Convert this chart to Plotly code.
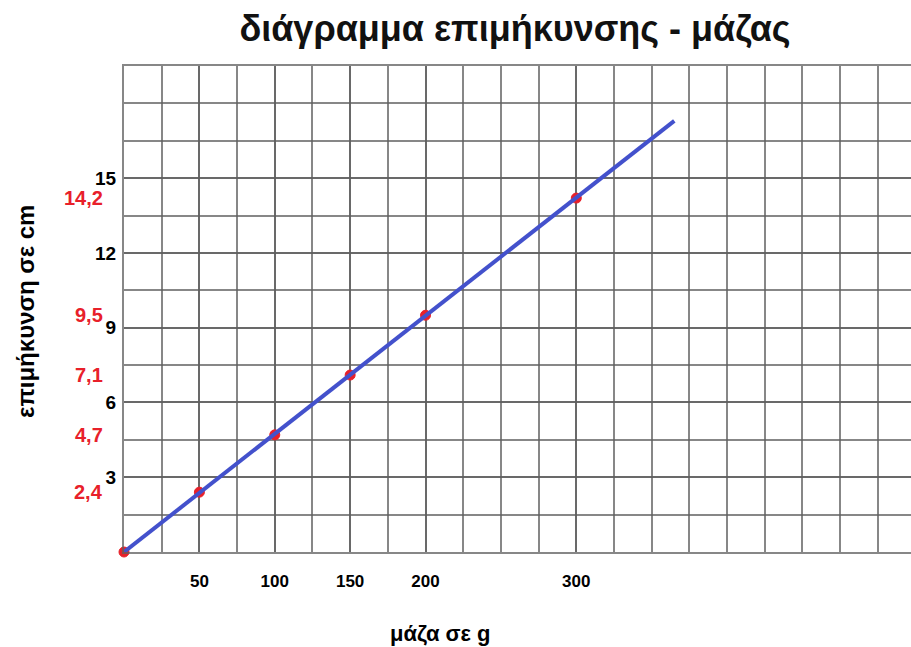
import plotly.graph_objects as go

# data
mass_g = [0, 50, 100, 150, 200, 300]
elong_cm = [0, 2.4, 4.7, 7.1, 9.5, 14.2]
value_labels = ["2,4", "4,7", "7,1", "9,5", "14,2"]
value_label_y = [2.4, 4.7, 7.1, 9.5, 14.2]
fit_x = [0, 365]
fit_y = [0, 17.3]
x_tickvals = [50, 100, 150, 200, 300]
y_tickvals = [3, 6, 9, 12, 15]

title_text = "διάγραμμα επιμήκυνσης - μάζας"
x_title = "μάζα σε g"
y_title = "επιμήκυνση σε cm"

RED = "#e8202a"
BLUE = "#4351cc"
GRID = "rgba(95,95,95,0.75)"
FONT = "Liberation Sans, Arial, sans-serif"

W, H = 911, 647
L, R, T, B = 124, 0, 66, 95
PW, PH = W - L - R, H - T - B

fig = go.Figure()
fig.add_trace(go.Scatter(
    x=mass_g, y=elong_cm, mode="markers",
    marker=dict(color=RED, size=10, line=dict(color=RED, width=1)),
    cliponaxis=False, showlegend=False,
))
fig.add_trace(go.Scatter(
    x=fit_x, y=fit_y, mode="lines",
    line=dict(color=BLUE, width=4),
    cliponaxis=False, showlegend=False,
))

for txt, yv in zip(value_labels, value_label_y):
    fig.add_annotation(
        x=0, y=yv, xref="x", yref="y", text=txt, showarrow=False,
        xanchor="right", yanchor="middle", xshift=-19,
        font=dict(family=FONT, size=20, color=RED, weight="bold"),
    )

# axis titles
fig.add_annotation(
    x=(440 - L) / PW, y=-(633 - (H - B)) / PH, xref="paper", yref="paper",
    text=x_title, showarrow=False, xanchor="center", yanchor="middle",
    font=dict(family=FONT, size=22, color="black", weight="bold"),
)
fig.add_annotation(
    x=-(L - 25) / PW, y=((H - B) - 312) / PH, xref="paper", yref="paper",
    text=y_title, showarrow=False, xanchor="center", yanchor="middle", textangle=-90,
    font=dict(family=FONT, size=24, color="black", weight="bold"),
)

fig.update_layout(
    width=W, height=H,
    margin=dict(l=L, r=R, t=T, b=B, autoexpand=False),
    paper_bgcolor="white", plot_bgcolor="white",
    title=dict(
        text=title_text, x=515 / W, xanchor="center", y=1 - 28 / H, yanchor="middle",
        font=dict(family=FONT, size=36, color="#111", weight="bold"),
    ),
    font=dict(family=FONT, color="black"),
    xaxis=dict(
        range=[0, 522], tickvals=x_tickvals, ticks="", showgrid=True, automargin=False,
        gridcolor=GRID, gridwidth=2.2, zeroline=False,
        showline=True, linecolor=GRID, linewidth=2.2, mirror=True,
        minor=dict(dtick=25, tick0=0, showgrid=True, gridcolor=GRID, gridwidth=2.2),
        tickfont=dict(family=FONT, size=17, color="black", weight="bold"),
        ticklabelstandoff=12,
    ),
    yaxis=dict(
        range=[0, 19.5], tickvals=y_tickvals, ticks="", showgrid=True, automargin=False,
        gridcolor=GRID, gridwidth=2.2, zeroline=False,
        showline=True, linecolor=GRID, linewidth=2.2, mirror=True,
        minor=dict(dtick=1.5, tick0=0, showgrid=True, gridcolor=GRID, gridwidth=2.2),
        tickfont=dict(family=FONT, size=19, color="black", weight="bold"),
        ticklabelstandoff=2,
    ),
)

fig.write_html("out.html", config={"displayModeBar": False},
               post_script="document.body.style.margin='0';")
